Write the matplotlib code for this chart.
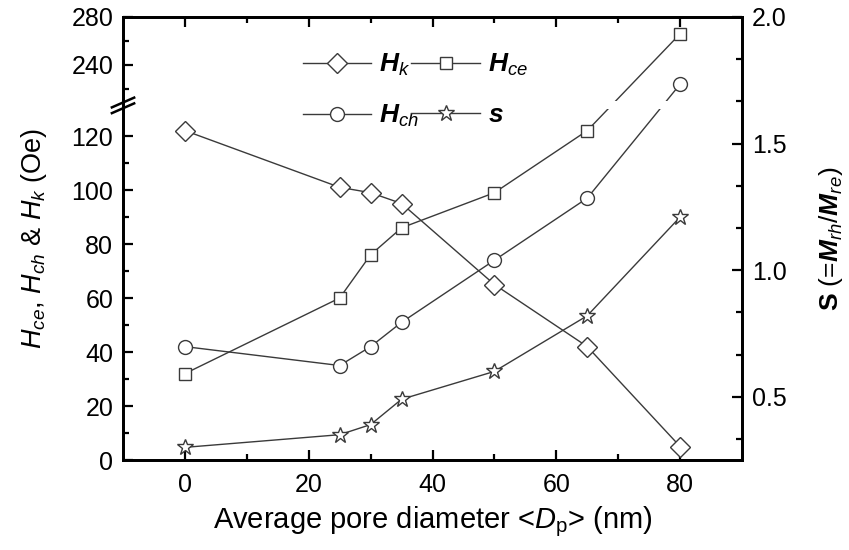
import numpy as np
import matplotlib
matplotlib.use("Agg")
import matplotlib.pyplot as plt

plt.rcParams['font.family'] = ['Liberation Sans', 'DejaVu Sans']
plt.rcParams['mathtext.fontset'] = 'custom'
plt.rcParams['mathtext.rm'] = 'Liberation Sans'
plt.rcParams['mathtext.it'] = 'Liberation Sans:italic'
plt.rcParams['mathtext.bf'] = 'Liberation Sans:bold'
plt.rcParams['mathtext.bfit'] = 'Liberation Sans:bold:italic'

#%% DONNEES

Dp = [0, 25, 30, 35, 50, 65, 80]            # diametre moyen des pores (nm)
Hk = [122, 101, 99, 95, 65, 42, 5]          # Oe
Hce = [32, 60, 76, 86, 99, 122, 266]        # Oe
Hch = [42, 35, 42, 51, 74, 97, 224]         # Oe
S = [0.30, 0.35, 0.39, 0.49, 0.60, 0.82, 1.21]

yticks_left = [0, 20, 40, 60, 80, 100, 120, 240, 280]
yminor_left = [10, 30, 50, 70, 90, 110, 220, 260]

#%% AXE COUPE (0-130 puis 210-280)

def fwd(y):
    y = np.asarray(y, float)
    return np.where(y < 130, y*2.7, np.where(y < 210, 351 + (y-130)*0.1, 359 + (y-210)*1.2))

def inv(v):
    v = np.asarray(v, float)
    return np.where(v < 351, v/2.7, np.where(v < 359, 130 + (v-351)/0.1, 210 + (v-359)/1.2))

#%% GRAPHE

fig = plt.figure(figsize=(8.49, 5.5), dpi=100)
ax = fig.add_axes([0.1449, 0.1636, 0.7291, 0.8055])
ax.set_yscale('function', functions=(fwd, inv))

c = '#3a3a3a'
kw = dict(color=c, lw=1.0, mfc='white', mec=c, mew=1.0)
l1, = ax.plot(Dp, Hk, marker='D', ms=10, **kw)
l2, = ax.plot(Dp, Hce, marker='s', ms=9, **kw)
l3, = ax.plot(Dp, Hch, marker='o', ms=10, **kw)
ax.axhspan(130, 210, color='white', zorder=2.2, lw=0)

ax.set_xlim(-10, 90)
ax.set_ylim(0, 280)
ax.set_xticks([0, 20, 40, 60, 80])
ax.set_xticks([10, 30, 50, 70], minor=True)
ax.set_yticks(yticks_left)
ax.set_yticks(yminor_left, minor=True)
ax.tick_params(which='both', direction='in', width=1.6, labelsize=18,
               top=True, right=False)
ax.tick_params(axis='x', pad=9)
ax.tick_params(axis='y', pad=7)
ax.tick_params(which='major', length=7.5)
ax.tick_params(which='minor', length=4.5)
for sp in ax.spines.values():
    sp.set_linewidth(2)

# marque de coupure sur l'axe gauche
for dy in (0.0, -0.013):
    ax.plot([-0.018, 0.018], [0.796 + dy, 0.818 + dy], transform=ax.transAxes,
            color='black', lw=1.8, clip_on=False, zorder=5)

ax.set_xlabel(r"Average pore diameter <$\mathit{D}_{\mathrm{p}}$> (nm)", fontsize=21, labelpad=6)
ax.set_ylabel(r"$\mathit{H}_{\mathit{ce}}$, $\mathit{H}_{\mathit{ch}}$ & $\mathit{H}_{\mathit{k}}$ (Oe)",
              fontsize=19.5, labelpad=16)

ax2 = ax.twinx()
l4, = ax2.plot(Dp, S, marker='*', ms=12, **kw)
ax2.set_ylim(0.25, 2.0)
ax2.set_yticks([0.5, 1.0, 1.5, 2.0])
ax2.set_yticks([0.3333, 0.6667, 0.8333, 1.1667, 1.3333, 1.6667, 1.8333], minor=True)
ax2.tick_params(which='both', direction='in', width=1.6, labelsize=18, pad=7)
ax2.tick_params(which='major', length=7.5)
ax2.tick_params(which='minor', length=4.5)
for sp in ax2.spines.values():
    sp.set_linewidth(2)
ax2.set_ylabel(r"$\mathbf{S}$ (=$\mathbfit{M}_{\mathit{rh}}$/$\mathbfit{M}_{\mathit{re}}$)",
               fontsize=19, labelpad=22)

leg = ax2.legend([l1, l3, l2, l4],
                 [r"$\mathbfit{H}_{\mathit{k}}$", r"$\mathbfit{H}_{\mathit{ch}}$",
                  r"$\mathbfit{H}_{\mathit{ce}}$", r"$\mathbfit{s}$"],
                 ncol=2, frameon=False, fontsize=19, loc='upper left',
                 bbox_to_anchor=(0.252, 0.975), handlelength=2.6,
                 columnspacing=-0.3, labelspacing=0.95, handletextpad=0.3)

fig.savefig("out.png", dpi=100)
